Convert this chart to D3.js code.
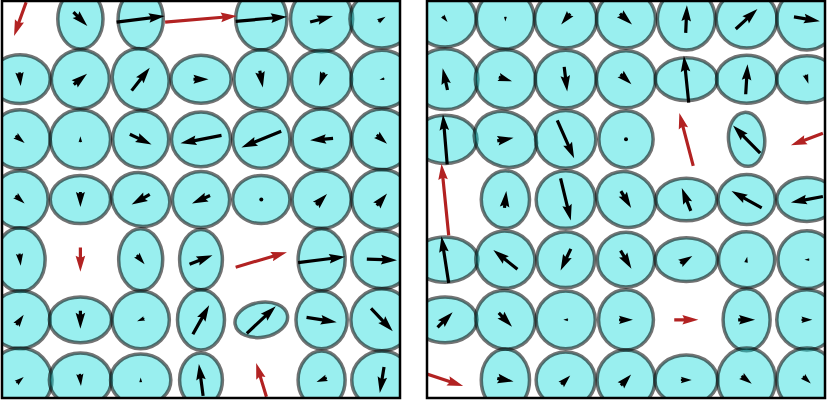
<!DOCTYPE html>
<html>
<head>
<meta charset="utf-8">
<script src="https://cdn.jsdelivr.net/npm/d3@7"></script>
<style>
  body { margin: 0; background: #fff; }
  svg { display: block; }
</style>
</head>
<body>
<svg width="830" height="400"></svg>
<script>
// grid 7x7, row 0 at top. arrow u,v and ellipse w,h in grid units (v up)
var cols = [0, 1, 2, 3, 4, 5, 6];
var rows = [0, 1, 2, 3, 4, 5, 6];

var leftU = [
  [-0.20, 0.23, 0.80, 1.19, 0.85, 0.38, 0.12],
  [0.02, 0.22, 0.30, 0.25, 0.05, -0.08, -0.08],
  [0.15, 0.00, 0.36, -0.68, -0.66, -0.38, 0.17],
  [0.15, 0.00, -0.30, -0.30, 0.02, 0.18, 0.17],
  [0.02, 0.00, 0.13, 0.38, 0.85, 0.78, 0.50],
  [0.12, 0.00, -0.12, 0.27, 0.48, 0.50, 0.36],
  [0.12, 0.02, 0.00, -0.07, -0.17, -0.17, -0.07]
];
var leftV = [
  [-0.56, -0.23, 0.10, 0.10, 0.08, 0.10, 0.08],
  [-0.23, 0.18, 0.38, 0.00, -0.28, -0.22, -0.02],
  [-0.12, 0.10, -0.17, -0.13, -0.27, -0.03, -0.15],
  [-0.13, -0.25, -0.17, -0.13, 0.00, 0.18, 0.20],
  [-0.20, -0.40, -0.15, 0.15, 0.25, 0.10, -0.02],
  [0.17, -0.30, -0.05, 0.48, 0.45, -0.08, -0.38],
  [0.10, -0.20, 0.08, 0.53, 0.56, -0.07, -0.43]
];
var leftW = [
  [null, 0.75, 0.75, null, 0.85, 1.03, 1.06],
  [1.00, 0.96, 0.93, 1.00, 0.91, 1.00, 1.03],
  [1.00, 1.00, 0.93, 0.98, 0.95, 0.98, 1.00],
  [0.93, 1.00, 0.98, 0.95, 0.95, 0.98, 1.00],
  [0.83, null, 0.73, 0.71, null, 0.78, 1.00],
  [1.00, 1.03, 0.95, 0.78, 0.88, 0.85, 1.03],
  [1.06, 1.03, 1.00, 0.71, null, 0.78, 1.00]
];
var leftH = [
  [null, 1.00, 1.00, null, 1.03, 1.09, 0.96],
  [0.81, 0.98, 1.03, 0.80, 0.98, 0.96, 0.96],
  [0.98, 0.98, 0.95, 0.91, 0.96, 1.01, 1.01],
  [0.96, 0.80, 0.88, 0.93, 0.80, 0.96, 1.00],
  [1.06, null, 1.03, 1.00, null, 1.03, 0.96],
  [0.96, 0.76, 0.96, 1.00, 0.58, 0.96, 1.03],
  [1.06, 0.90, 0.86, 0.90, null, 0.96, 0.96]
];
var leftA = [
  [0, 0, 0, 0, 0, 0, 0],
  [0, -15, 20, 0, 0, 0, 0],
  [0, 0, 0, 0, 0, 0, 0],
  [0, 0, -25, 0, 0, 0, 0],
  [0, 0, 0, 0, 0, 0, 0],
  [15, 0, 0, 0, 10, 0, 0],
  [0, 0, 0, 0, 0, 0, 0]
];

var rightU = [
  [0.08, 0.00, -0.15, 0.20, 0.02, 0.36, 0.43],
  [-0.08, 0.22, 0.05, 0.18, -0.08, 0.03, 0.05],
  [-0.07, 0.27, 0.28, 0.01, -0.23, -0.45, -0.53],
  [-0.12, 0.03, 0.17, 0.17, -0.15, -0.50, -0.53],
  [-0.12, -0.40, -0.17, 0.18, 0.20, 0.02, -0.08],
  [0.25, 0.22, -0.08, 0.23, 0.40, 0.28, 0.18],
  [0.60, 0.27, 0.15, 0.17, 0.18, 0.17, 0.13]
];
var rightV = [
  [-0.10, -0.08, -0.18, -0.18, 0.46, 0.33, -0.07],
  [0.36, -0.07, -0.41, -0.17, 0.78, 0.50, -0.15],
  [0.83, 0.05, -0.63, 0.00, 0.88, 0.46, -0.20],
  [1.19, 0.28, -0.70, -0.28, 0.38, 0.28, -0.10],
  [0.78, 0.32, -0.36, -0.30, 0.12, 0.10, 0.00],
  [0.25, -0.23, 0.00, 0.00, 0.00, 0.00, 0.00],
  [-0.20, -0.05, 0.15, 0.18, 0.00, -0.13, -0.12]
];
var rightW = [
  [1.03, 0.96, 1.03, 0.98, 0.96, 1.01, 1.00],
  [1.09, 1.00, 1.01, 0.98, 1.03, 1.00, 1.00],
  [1.06, 1.06, 1.00, 0.90, null, 0.60, null],
  [null, 0.80, 0.98, 1.00, 1.01, 0.95, 1.00],
  [1.09, 0.98, 0.96, 0.95, 1.03, 0.93, 0.96],
  [1.06, 1.00, 0.98, 0.91, null, 0.78, 1.00],
  [null, 0.80, 0.98, 0.96, 1.04, 0.96, 1.00]
];
var rightH = [
  [0.93, 1.00, 0.96, 0.96, 1.03, 0.96, 1.03],
  [1.01, 0.98, 0.96, 0.95, 0.71, 0.80, 0.78],
  [0.80, 0.90, 0.96, 0.95, null, 0.90, null],
  [null, 0.96, 0.96, 0.90, 0.71, 0.83, 0.73],
  [0.75, 0.95, 0.93, 0.91, 0.73, 0.93, 0.96],
  [0.76, 0.96, 0.96, 1.00, null, 1.03, 1.00],
  [null, 1.03, 0.93, 1.00, 0.83, 1.06, 1.06]
];
var rightA = [
  [0, 0, 0, 0, 0, 0, 0],
  [0, 0, 0, 0, 0, 0, 0],
  [0, -25, 0, 0, 0, 5, 0],
  [0, 0, 0, -30, 0, 0, 0],
  [0, -15, 0, 0, 0, -10, 0],
  [0, -35, 0, 0, 0, 0, 0],
  [0, 0, 0, 0, 0, 0, 0]
];

var svg = d3.select('svg');
var pw = 398, ph = 397;

// quiver style arrow, pivot in the middle
function arrowPath(len){
  var w = 3.2, s = w/2, hw = 1.5*w, hl = 5*w, hal = 4.5*w;
  var L = len, k = 1;
  if (len < hl) { k = len/hl; L = hl; }
  var pts = [[0,-s],[L-hal,-s],[L-hl,-hw],[L,0],[L-hl,hw],[L-hal,s],[0,s]];
  pts = pts.map(function(p){ return [p[0]*k - len/2, p[1]*k]; });
  return d3.line()(pts) + 'Z';
}

function panel(id, x0, U, V, W, H, A){
  var x = d3.scaleLinear().domain([-0.3, 6.3]).range([0, pw]);
  var y = d3.scaleLinear().domain([6.3, -0.3]).range([0, ph]);

  svg.append('clipPath').attr('id', id)
    .append('rect').attr('width', pw).attr('height', ph);

  var g = svg.append('g').attr('transform', 'translate(' + x0 + ',1)');
  var inner = g.append('g').attr('clip-path', 'url(#' + id + ')');

  var cells = [];
  rows.forEach(function(r){
    cols.forEach(function(c){
      cells.push({c: c, r: r, yv: 6 - r, u: U[r][c], v: V[r][c],
        w: W[r][c], h: H[r][c], a: A[r][c]});
    });
  });

  inner.selectAll('ellipse').data(cells.filter(function(d){ return d.w != null; }))
    .enter().append('ellipse')
    .attr('cx', 0).attr('cy', 0)
    .attr('rx', function(d){ return (x(d.w) - x(0))/2; })
    .attr('ry', function(d){ return (y(0) - y(d.h))/2; })
    .attr('transform', function(d){
      return 'translate(' + x(d.c) + ',' + y(d.yv) + ') rotate(' + (-d.a) + ')';
    })
    .attr('fill', '#00d8d8').attr('fill-opacity', 0.4)
    .attr('stroke', '#000').attr('stroke-opacity', 0.55).attr('stroke-width', 3.5);

  cells.forEach(function(d){
    var dx = x(d.u) - x(0), dy = y(d.v) - y(0);
    var len = Math.sqrt(dx*dx + dy*dy);
    var col = d.w == null ? '#b22222' : '#000';
    if (len < 3.2) {
      inner.append('circle').attr('cx', x(d.c)).attr('cy', y(d.yv)).attr('r', 2).attr('fill', col);
      return;
    }
    var ang = Math.atan2(dy, dx) * 180 / Math.PI;
    inner.append('path')
      .attr('d', arrowPath(len))
      .attr('transform', 'translate(' + x(d.c) + ',' + y(d.yv) + ') rotate(' + ang + ')')
      .attr('fill', col);
  });

  g.append('rect').attr('width', pw).attr('height', ph)
    .attr('fill', 'none').attr('stroke', '#000').attr('stroke-width', 2.5);
}

panel('clipL', 2, leftU, leftV, leftW, leftH, leftA);
panel('clipR', 427, rightU, rightV, rightW, rightH, rightA);
</script>
</body>
</html>
